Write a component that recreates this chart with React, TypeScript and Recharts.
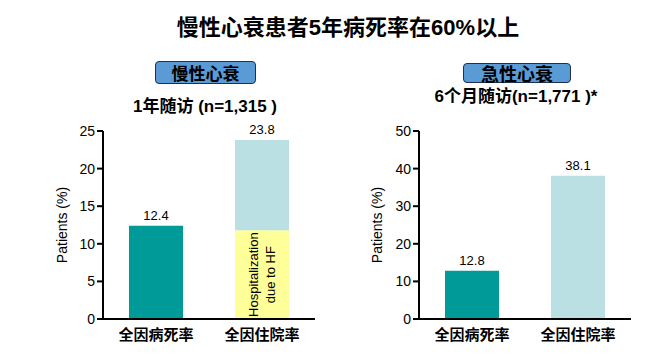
import { BarChart, Bar, XAxis, YAxis, LabelList, Cell } from 'recharts'

const CATEGORIES = ['全因病死率', '全因住院率']

const CHRONIC_DEATH = [12.4, 0]
const CHRONIC_HF_HOSP = [0, 11.8]
const CHRONIC_OTHER_HOSP = [0, 12.0]
const CHRONIC_TOTALS = [12.4, 23.8]
const CHRONIC_TICKS = [0, 5, 10, 15, 20, 25]

const ACUTE_RATES = [12.8, 38.1]
const ACUTE_TICKS = [0, 10, 20, 30, 40, 50]

const EDGE_TICKS = [0, 1, 2]

const FONT = "'Liberation Sans', 'Noto Sans CJK SC', sans-serif"
const TEAL = '#009a98'
const LIGHT_BLUE = '#bae0e3'
const YELLOW = '#ffff99'

const chronicData = CATEGORIES.map((name, i) => ({
  name,
  death: CHRONIC_DEATH[i],
  hf: CHRONIC_HF_HOSP[i],
  other: CHRONIC_OTHER_HOSP[i],
  total: CHRONIC_TOTALS[i],
}))

const acuteData = CATEGORIES.map((name, i) => ({ name, rate: ACUTE_RATES[i] }))

function HfLabel(props: any) {
  const { x, y, width, height, value } = props
  if (!value) return null
  const cx = x + width / 2
  const cy = y + height / 2
  return (
    <text transform={`rotate(-90 ${cx} ${cy})`} textAnchor="middle" fontSize={13} fontFamily={FONT} fill="#000">
      <tspan x={cx} y={cy - 4}>Hospitalization</tspan>
      <tspan x={cx} y={cy + 13}>due to HF</tspan>
    </text>
  )
}

function TopLabel(props: any) {
  const { x, y, width, height, value } = props
  if (!height) return null
  return (
    <text x={x + width / 2} y={y - 6} textAnchor="middle" fontSize={13} fontFamily={FONT} fill="#000">
      {value}
    </text>
  )
}

const tickStyle = { fontSize: 14, fill: '#000', fontFamily: FONT }
const catTick = { fontSize: 15, fill: '#000', fontFamily: FONT, fontWeight: 700 }
const axisLine = { stroke: '#000', strokeWidth: 2 }

function Header({ left, top, width, height, fontSize, text }: { left: number; top: number; width: number; height: number; fontSize: number; text: string }) {
  return (
    <div
      style={{
        position: 'absolute', left, top, width, height, boxSizing: 'border-box',
        background: '#5b9bd5', border: '1px solid #1f2f4f', borderRadius: 4,
        display: 'flex', alignItems: 'center', justifyContent: 'center',
        fontFamily: FONT, fontWeight: 700, fontSize, color: '#000',
      }}
    >
      {text}
    </div>
  )
}

function SubTitle({ cx, top, text }: { cx: number; top: number; text: string }) {
  return (
    <div
      style={{
        position: 'absolute', left: cx - 150, top, width: 300, textAlign: 'center',
        fontFamily: FONT, fontWeight: 700, fontSize: 17, color: '#000', lineHeight: '20px',
      }}
    >
      {text}
    </div>
  )
}

export default function App() {
  return (
    <div style={{ position: 'absolute', left: 0, top: 0, width: 656, height: 355, background: '#fff', overflow: 'hidden' }}>
      <div
        style={{
          position: 'absolute', left: 0, top: 14, width: 696, textAlign: 'center',
          fontFamily: FONT, fontWeight: 700, fontSize: 22, lineHeight: '28px', color: '#000',
        }}
      >
        慢性心衰患者5年病死率在60%以上
      </div>

      <Header left={155} top={61} width={101} height={23} fontSize={17} text="慢性心衰" />
      <SubTitle cx={205} top={97} text="1年随访 (n=1,315 )" />
      <Header left={463} top={63} width={108} height={20} fontSize={18} text="急性心衰" />
      <SubTitle cx={516} top={87} text="6个月随访(n=1,771 )*" />

      <div style={{ position: 'absolute', left: 0, top: 0 }}>
        <BarChart width={330} height={355} data={chronicData} margin={{ top: 131, right: 15, left: 21, bottom: 6 }} barSize={54}>
          <XAxis xAxisId="edge" type="number" domain={[0, 2]} ticks={EDGE_TICKS} allowDataOverflow tick={false} axisLine={false} tickLine={{ stroke: '#000', strokeWidth: 2 }} tickSize={5} height={0} />
          <XAxis dataKey="name" tick={catTick} tickLine={false} axisLine={axisLine} height={30} tickMargin={4} />
          <YAxis
            domain={[0, 25]}
            ticks={CHRONIC_TICKS}
            width={82}
            tick={tickStyle}
            tickLine={{ stroke: '#000', strokeWidth: 2 }}
            tickSize={6}
            axisLine={axisLine}
            label={{ value: 'Patients (%)', angle: -90, position: 'center', fontSize: 14, fill: '#000', fontFamily: FONT }}
          />
          <Bar dataKey="death" stackId="a" fill={TEAL} isAnimationActive={false}>
            <LabelList dataKey="total" content={TopLabel} />
          </Bar>
          <Bar dataKey="hf" stackId="a" fill={YELLOW} isAnimationActive={false}>
            <LabelList dataKey="hf" content={HfLabel} />
          </Bar>
          <Bar dataKey="other" stackId="a" fill={LIGHT_BLUE} isAnimationActive={false}>
            <LabelList dataKey="total" content={TopLabel} />
          </Bar>
        </BarChart>
      </div>

      <div style={{ position: 'absolute', left: 316, top: 0 }}>
        <BarChart width={340} height={355} data={acuteData} margin={{ top: 131, right: 25, left: 19, bottom: 6 }} barSize={54}>
          <XAxis xAxisId="edge" type="number" domain={[0, 2]} ticks={EDGE_TICKS} allowDataOverflow tick={false} axisLine={false} tickLine={{ stroke: '#000', strokeWidth: 2 }} tickSize={5} height={0} />
          <XAxis dataKey="name" tick={catTick} tickLine={false} axisLine={axisLine} height={30} tickMargin={4} />
          <YAxis
            domain={[0, 50]}
            ticks={ACUTE_TICKS}
            width={84}
            tick={tickStyle}
            tickLine={{ stroke: '#000', strokeWidth: 2 }}
            tickSize={6}
            axisLine={axisLine}
            label={{ value: 'Patients (%)', angle: -90, position: 'center', fontSize: 14, fill: '#000', fontFamily: FONT }}
          />
          <Bar dataKey="rate" isAnimationActive={false}>
            {acuteData.map((d, i) => (
              <Cell key={d.name} fill={i === 0 ? TEAL : LIGHT_BLUE} />
            ))}
            <LabelList dataKey="rate" content={TopLabel} />
          </Bar>
        </BarChart>
      </div>
    </div>
  )
}
